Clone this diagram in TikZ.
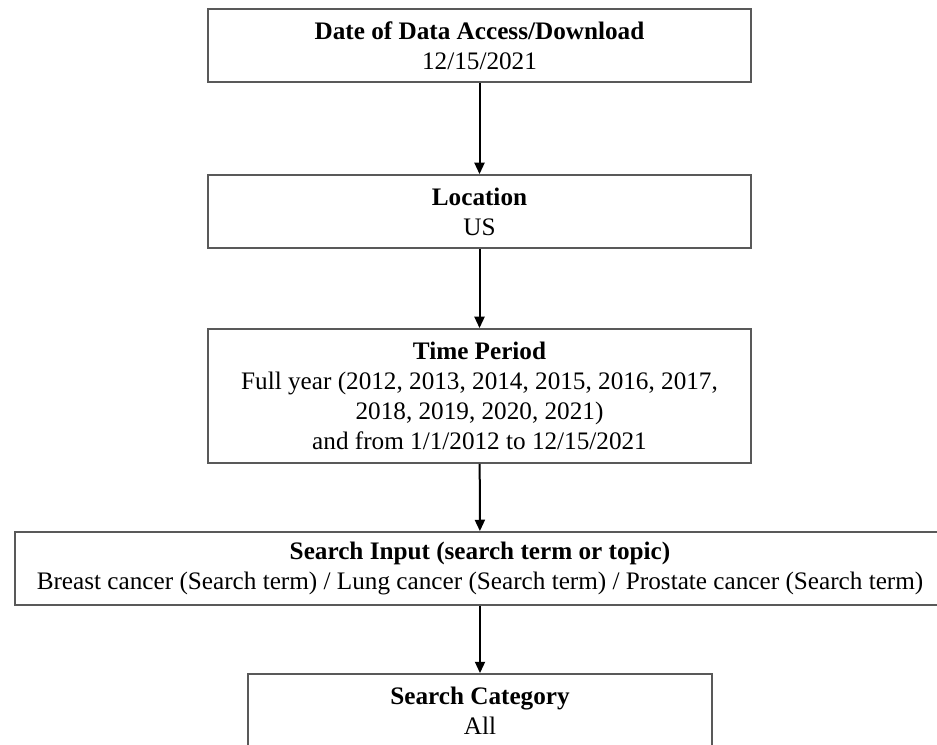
\documentclass[tikz,border=0pt]{standalone}
\usepackage{fontspec}
\setmainfont{Liberation Serif}
\usetikzlibrary{arrows.meta}
\tikzset{stepbox/.style={draw=black!65, line width=1.4pt, align=center, inner sep=0pt,
minimum width=407.25pt, minimum height=54.75pt, font=\fontsize{18.9}{22.5}\selectfont},
%arrow between two boxes
flow/.style={-{Triangle[length=8.5pt,width=7.5pt]}, line width=1.5pt}}
\begin{document}
\begin{tikzpicture}[x=0.75pt,y=-0.75pt]
\useasboundingbox (0,0) rectangle (937,744);
\clip (0,0) rectangle (937,744);
% boxes
\node[stepbox] (access) at (479.5,45.5) {\textbf{Date of Data Access/Download}\\12/15/2021};
\node[stepbox] (location) at (479.5,211.5) {\textbf{Location}\\US};
\node[stepbox, minimum height=100.5pt] (period) at (479.5,396) {\textbf{Time Period}\\Full year (2012, 2013, 2014, 2015, 2016, 2017,\\2018, 2019, 2020, 2021)\\and from 1/1/2012 to 12/15/2021};
\node[stepbox, minimum width=697.5pt] (input) at (480,568.5) {\textbf{Search Input (search term or topic)}\\Breast cancer (Search term) / Lung cancer (Search term) / Prostate cancer (Search term)};
\node[stepbox, minimum width=348pt] (category) at (480,710.5) {\textbf{Search Category}\\All};
% arrows
\draw[flow] (access) -- (location);
\draw[flow] (location) -- (period);
\draw[flow] (period) -- (input);
\draw[flow] (input) -- (category);
\end{tikzpicture}
\end{document}
